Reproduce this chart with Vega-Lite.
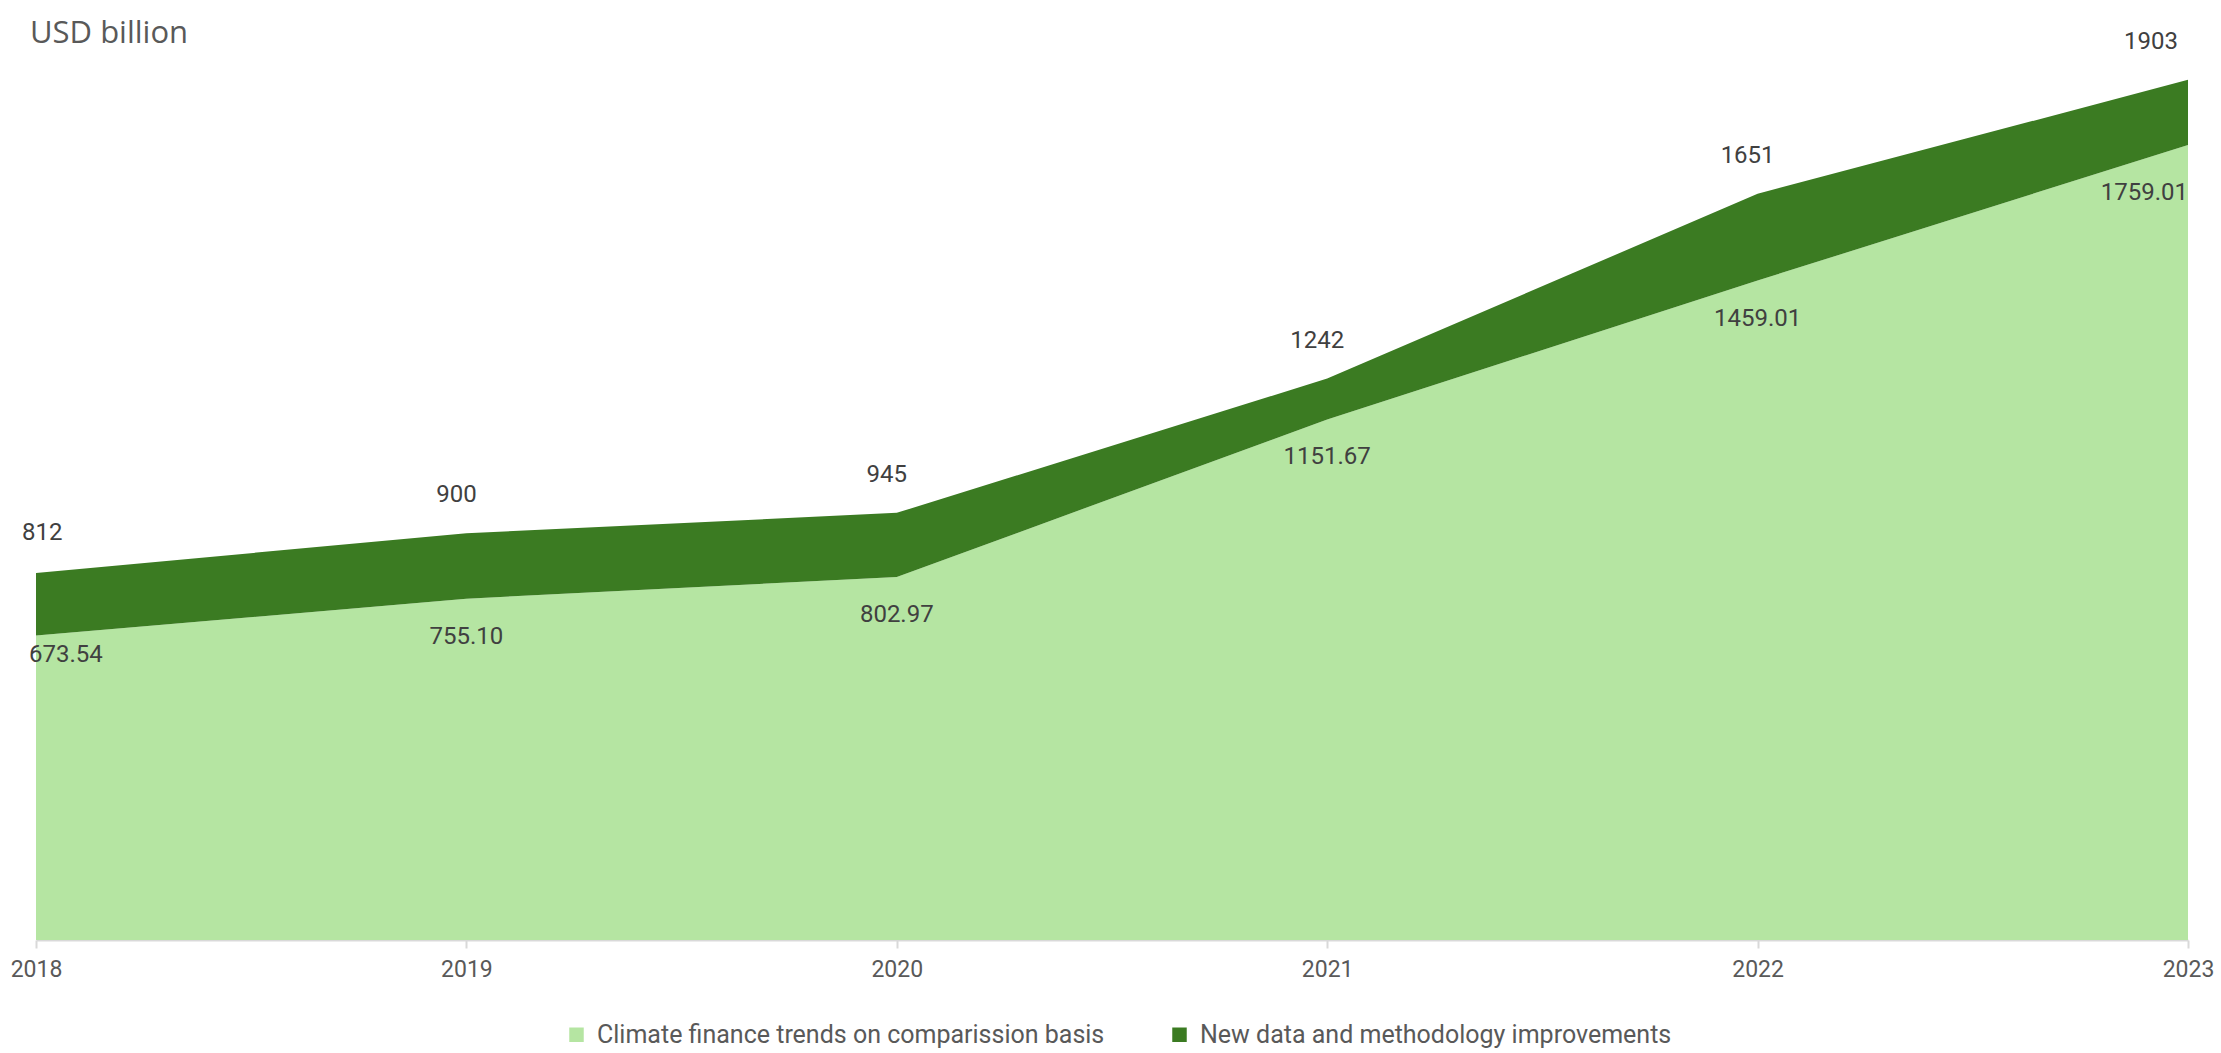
{
  "$schema": "https://vega.github.io/schema/vega-lite/v6.json",
  "autosize": {"type": "none"},
  "width": 2152,
  "height": 904,
  "padding": {"left": 36, "top": 36, "right": 33, "bottom": 113},
  "background": "white",
  "title": {
    "text": "USD billion",
    "anchor": "start",
    "frame": "group",
    "orient": "top",
    "font": "Open Sans",
    "fontSize": 31,
    "fontWeight": "normal",
    "color": "#595959",
    "baseline": "alphabetic",
    "offset": -5,
    "dx": -6,
    "dy": 39
  },
  "data": {
    "values": [
      {"year": "2018", "basis": 673.54, "total": 812},
      {"year": "2019", "basis": 755.10, "total": 900},
      {"year": "2020", "basis": 802.97, "total": 945},
      {"year": "2021", "basis": 1151.67, "total": 1242},
      {"year": "2022", "basis": 1459.01, "total": 1651},
      {"year": "2023", "basis": 1759.01, "total": 1903}
    ]
  },
  "encoding": {
    "x": {
      "field": "year",
      "type": "ordinal",
      "scale": {"type": "point", "padding": 0},
      "axis": {
        "title": null,
        "labelAngle": 0,
        "labelFont": "Roboto",
        "labelFontSize": 23,
        "labelColor": "#595959",
        "labelPadding": 10,
        "domainColor": "#d9d9d9",
        "domainWidth": 2,
        "tickColor": "#d9d9d9",
        "tickWidth": 2,
        "tickSize": 8,
        "grid": false
      }
    }
  },
  "layer": [
    {
      "mark": {"type": "area", "opacity": 1},
      "encoding": {
        "y": {"field": "basis", "type": "quantitative", "scale": {"domain": [0, 2000]}, "axis": null},
        "color": {"datum": "Climate finance trends on comparission basis"}
      }
    },
    {
      "mark": {"type": "area", "opacity": 1},
      "encoding": {
        "y": {"field": "total", "type": "quantitative"},
        "y2": {"field": "basis"},
        "color": {"datum": "New data and methodology improvements"}
      }
    },
    {
      "transform": [{"filter": "datum.year == '2018'"}],
      "mark": {"type": "text", "align": "left", "baseline": "middle", "dx": -14, "dy": -40, "font": "Roboto", "fontSize": 24, "color": "#404040"},
      "encoding": {"y": {"field": "total", "type": "quantitative"}, "text": {"field": "total", "type": "quantitative", "format": "d"}}
    },
    {
      "transform": [{"filter": "datum.year != '2018' && datum.year != '2023'"}],
      "mark": {"type": "text", "align": "center", "baseline": "middle", "dx": -10, "dy": -38, "font": "Roboto", "fontSize": 24, "color": "#404040"},
      "encoding": {"y": {"field": "total", "type": "quantitative"}, "text": {"field": "total", "type": "quantitative", "format": "d"}}
    },
    {
      "transform": [{"filter": "datum.year == '2023'"}],
      "mark": {"type": "text", "align": "right", "baseline": "middle", "dx": -10, "dy": -38, "font": "Roboto", "fontSize": 24, "color": "#404040"},
      "encoding": {"y": {"field": "total", "type": "quantitative"}, "text": {"field": "total", "type": "quantitative", "format": "d"}}
    },
    {
      "transform": [{"filter": "datum.year == '2018'"}],
      "mark": {"type": "text", "align": "left", "baseline": "middle", "dx": -7, "dy": 19, "font": "Roboto", "fontSize": 24, "color": "#404040"},
      "encoding": {"y": {"field": "basis", "type": "quantitative"}, "text": {"field": "basis", "type": "quantitative", "format": ".2f"}}
    },
    {
      "transform": [{"filter": "datum.year != '2018' && datum.year != '2023'"}],
      "mark": {"type": "text", "align": "center", "baseline": "middle", "dx": 0, "dy": 38, "font": "Roboto", "fontSize": 24, "color": "#404040"},
      "encoding": {"y": {"field": "basis", "type": "quantitative"}, "text": {"field": "basis", "type": "quantitative", "format": ".2f"}}
    },
    {
      "transform": [{"filter": "datum.year == '2023'"}],
      "mark": {"type": "text", "align": "right", "baseline": "middle", "dx": 0, "dy": 48, "font": "Roboto", "fontSize": 24, "color": "#404040"},
      "encoding": {"y": {"field": "basis", "type": "quantitative"}, "text": {"field": "basis", "type": "quantitative", "format": ".2f"}}
    }
  ],
  "resolve": {"scale": {"y": "shared"}},
  "config": {
    "view": {"stroke": null},
    "range": {"category": ["#b5e5a2", "#3b7b22"]},
    "legend": {
      "orient": "none",
      "legendX": 528,
      "legendY": 986,
      "direction": "horizontal",
      "title": null,
      "symbolType": "square",
      "symbolSize": 210,
      "symbolStrokeWidth": 0,
      "symbolOpacity": 1,
      "labelFont": "Roboto",
      "labelFontSize": 25,
      "labelColor": "#595959",
      "labelLimit": 800,
      "columnPadding": 62,
      "labelOffset": 8
    }
  }
}
